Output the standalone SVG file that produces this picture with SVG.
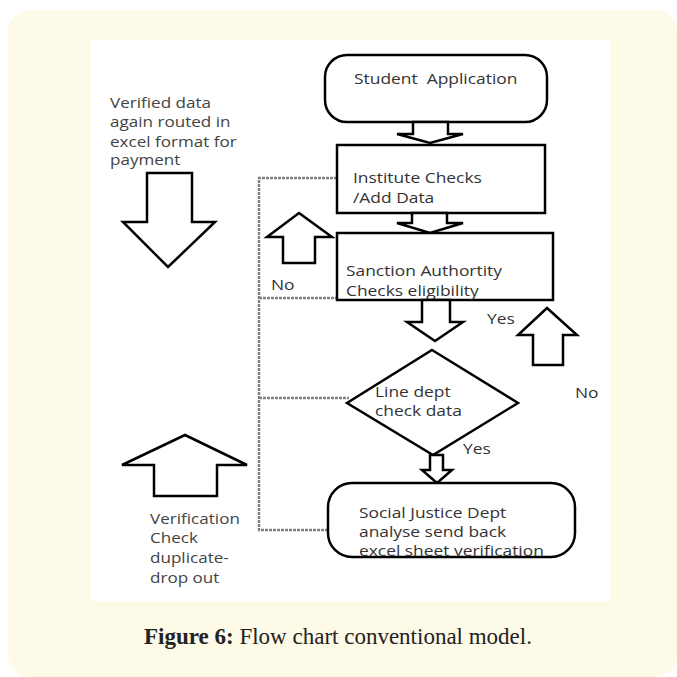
<svg xmlns="http://www.w3.org/2000/svg" width="677" height="677" viewBox="0 0 677 677">
<style>
.shape{fill:#fff;stroke:#000;stroke-width:2.5;stroke-linejoin:miter}
.t{font-family:"Open Sans","DejaVu Sans",sans-serif;font-size:14.5px;fill:#333}
.tl{font-family:"Open Sans","DejaVu Sans",sans-serif;font-size:14px;fill:#444}
.conn{fill:none;stroke:#808080;stroke-width:2.4;stroke-dasharray:3 1}
</style>
<rect x="8" y="10" width="669" height="667" rx="22" fill="#FEFAE8"/>
<rect x="91" y="40" width="519" height="561" fill="#fff"/>
<g id="connectors">
<path class="conn" d="M337 178 H259 V530 H328"/>
<path class="conn" d="M259 298 H337"/>
<path class="conn" d="M259 398 H349"/>
</g>
<g id="student-application">
<rect class="shape" x="325" y="55" width="222" height="67" rx="22"/>
<text class="t" x="354" y="84" transform="matrix(1.2,0,0,1,-70.8,0)" xml:space="preserve" style="white-space:pre">Student  Application</text>
</g>
<g id="arrow1"><polygon class="shape" points="413,122 448,122 448,134 463,134 430,143 397,134 413,134"/></g>
<g id="institute-checks">
<rect class="shape" x="337" y="145" width="208" height="68"/>
<g transform="matrix(1.2,0,0,1,-70.6,0)">
<text class="t" x="353" y="183">Institute Checks</text>
<text class="t" x="353" y="203">/Add Data</text>
</g>
</g>
<g id="arrow2"><polygon class="shape" points="412,213 447,213 447,223 463,223 430,233 397,223 412,223"/></g>
<g id="sanction-authority">
<rect class="shape" x="337" y="233" width="216" height="67"/>
<g transform="matrix(1.2,0,0,1,-69.2,0)">
<text class="t" x="346" y="276">Sanction Authortity</text>
<text class="t" x="346" y="296">Checks eligibility</text>
</g>
</g>
<g id="arrow-up-left"><polygon class="shape" points="299,213 332,237 315,237 315,263 283,263 283,237 267,237"/></g>
<text class="t" x="271" y="290" transform="matrix(1.2,0,0,1,-54.2,0)">No</text>
<g id="arrow3"><polygon class="shape" points="422,300 450,300 450,322 463,322 435,341 407,322 422,322"/></g>
<text class="t" x="487" y="324" transform="matrix(1.2,0,0,1,-97.4,0)">Yes</text>
<g id="arrow-up-right"><polygon class="shape" points="547,308 577,335 563,335 563,365 533,365 533,335 518,335"/></g>
<text class="t" x="575" y="398" transform="matrix(1.2,0,0,1,-115,0)">No</text>
<g id="line-dept">
<polygon class="shape" points="432,350 518,403 433,455 347,403"/>
<g transform="matrix(1.2,0,0,1,-75,0)">
<text class="t" x="375" y="397">Line dept</text>
<text class="t" x="375" y="416">check data</text>
</g>
</g>
<text class="t" x="463" y="454" transform="matrix(1.2,0,0,1,-92.6,0)">Yes</text>
<g id="arrow4"><polygon class="shape" points="430,455 443,455 443,470 452,470 437,483 422,470 430,470"/></g>
<g id="social-justice">
<rect class="shape" x="328" y="483" width="247" height="74" rx="24"/>
<g transform="matrix(1.2,0,0,1,-71.8,0)">
<text class="t" x="359" y="518">Social Justice Dept</text>
<text class="t" x="359" y="537">analyse send back</text>
<text class="t" x="359" y="556">excel sheet verification</text>
</g>
</g>
<g id="verified-data">
<g transform="matrix(1.22,0,0,1,-24.2,0)">
<text class="tl" x="110" y="108">Verified data</text>
<text class="tl" x="110" y="127">again routed in</text>
<text class="tl" x="110" y="147">excel format for</text>
<text class="tl" x="110" y="165">payment</text>
</g>
<polygon class="shape" points="147,173 192,173 192,222 215,222 168,267 123,222 147,222"/>
</g>
<g id="verification-check">
<polygon class="shape" points="185,435 247,465 217,465 217,496 154,496 154,465 122,465"/>
<g transform="matrix(1.22,0,0,1,-33,0)">
<text class="tl" x="150" y="524">Verification</text>
<text class="tl" x="150" y="543">Check</text>
<text class="tl" x="150" y="563">duplicate-</text>
<text class="tl" x="150" y="583">drop out</text>
</g>
</g>
<text x="338" y="644" text-anchor="middle" font-family="'Liberation Serif','DejaVu Serif',serif" font-size="23" fill="#222"><tspan font-weight="bold">Figure 6:</tspan> Flow chart conventional model.</text>
</svg>
